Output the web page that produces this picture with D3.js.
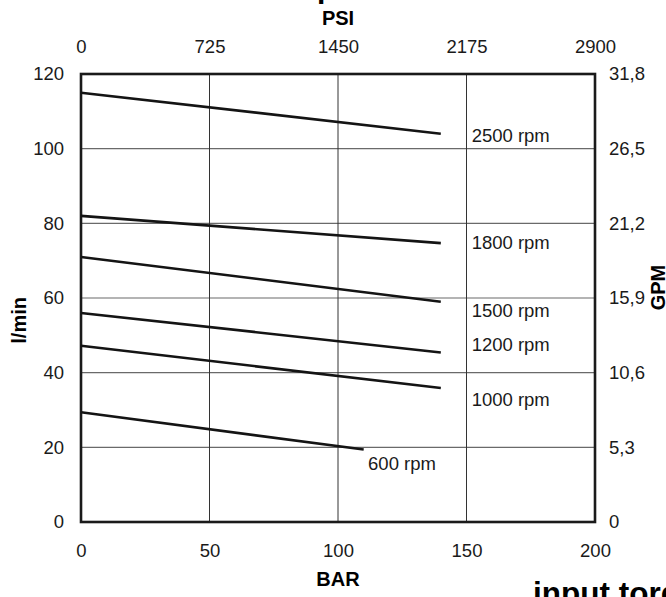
<!DOCTYPE html>
<html>
<head>
<meta charset="utf-8">
<script src="https://cdn.jsdelivr.net/npm/d3@7"></script>
<style>
  body { margin: 0; background: #fff; }
  svg { display: block; font-family: "Liberation Sans", Arial, sans-serif; }
</style>
</head>
<body>
<svg id="chart" width="666" height="597"></svg>
<script>
// pressure (bar) vs flow (l/min) per rpm
const speeds = ["2500 rpm", "1800 rpm", "1500 rpm", "1200 rpm", "1000 rpm", "600 rpm"];
const startBar = [0, 0, 0, 0, 0, 0];
const endBar = [140, 140, 140, 140, 140, 110];
const startFlow = [115, 82, 71, 56, 47.2, 29.4];
const endFlow = [104, 74.7, 59, 45.4, 35.9, 19.4];
// where each label sits, in chart units
const labelBar = [152, 152, 152, 152, 152, 111.7];
const labelFlow = [103.4, 74.8, 56.7, 47.5, 32.9, 15.6];

const barTicks = [0, 50, 100, 150, 200];
const psiTicks = ["0", "725", "1450", "2175", "2900"];
const flowTicks = [0, 20, 40, 60, 80, 100, 120];
const gpmTicks = ["0", "5,3", "10,6", "15,9", "21,2", "26,5", "31,8"];

const svg = d3.select("#chart");
const margin = { top: 74, right: 71, bottom: 75, left: 81 };
const width = 666, height = 597;

const x = d3.scaleLinear().domain([0, 200]).range([margin.left, width - margin.right]);
const y = d3.scaleLinear().domain([0, 120]).range([height - margin.bottom, margin.top]);

// grid
svg.append("g")
  .selectAll("line")
  .data(flowTicks.slice(1, -1))
  .join("line")
  .attr("x1", x(0)).attr("x2", x(200))
  .attr("y1", d => y(d)).attr("y2", d => y(d))
  .attr("stroke", "#6a6a6a").attr("stroke-width", 1.2);

svg.append("g")
  .selectAll("line")
  .data(barTicks.slice(1, -1))
  .join("line")
  .attr("x1", d => x(d)).attr("x2", d => x(d))
  .attr("y1", y(0)).attr("y2", y(120))
  .attr("stroke", "#333").attr("stroke-width", 1);

// frame
svg.append("rect")
  .attr("x", x(0)).attr("y", y(120))
  .attr("width", x(200) - x(0)).attr("height", y(0) - y(120))
  .attr("fill", "none").attr("stroke", "#1a1a1a").attr("stroke-width", 2.6);

// axes (labels only)
const tickFont = 18.5;
const gBottom = svg.append("g")
  .attr("transform", `translate(0,${y(0) + 19})`)
  .call(d3.axisBottom(x).tickValues(barTicks).tickSize(0).tickFormat(d3.format("d")));
const gTop = svg.append("g")
  .attr("transform", `translate(0,${y(120) - 18.5})`)
  .call(d3.axisTop(x).tickValues(barTicks).tickSize(0).tickFormat((d, i) => psiTicks[i]));
const gLeft = svg.append("g")
  .attr("transform", `translate(${x(0) - 14},0)`)
  .call(d3.axisLeft(y).tickValues(flowTicks).tickSize(0));
const gRight = svg.append("g")
  .attr("transform", `translate(${x(200) + 11},0)`)
  .call(d3.axisRight(y).tickValues(flowTicks).tickSize(0).tickFormat((d, i) => gpmTicks[i]));

[gBottom, gTop, gLeft, gRight].forEach(g => {
  g.select(".domain").remove();
  g.selectAll("text")
    .attr("font-size", tickFont)
    .attr("font-family", "Liberation Sans, Arial, sans-serif")
    .attr("fill", "#1a1a1a");
});

// series lines
const line = d3.line().x(d => x(d[0])).y(d => y(d[1]));
svg.append("g")
  .selectAll("path")
  .data(speeds.map((s, i) => [[startBar[i], startFlow[i]], [endBar[i], endFlow[i]]]))
  .join("path")
  .attr("d", line)
  .attr("fill", "none")
  .attr("stroke", "#141414")
  .attr("stroke-width", 2.6);

svg.append("g")
  .selectAll("text")
  .data(speeds)
  .join("text")
  .attr("x", (d, i) => x(labelBar[i]))
  .attr("y", (d, i) => y(labelFlow[i]))
  .attr("dy", "0.35em")
  .attr("font-size", 18.5)
  .attr("fill", "#1a1a1a")
  .text(d => d);

// axis titles
svg.append("text")
  .attr("x", x(100)).attr("y", 586)
  .attr("text-anchor", "middle")
  .attr("font-size", 20).attr("font-weight", "bold")
  .text("BAR");

svg.append("text")
  .attr("x", x(100)).attr("y", 25)
  .attr("text-anchor", "middle")
  .attr("font-size", 20).attr("font-weight", "bold")
  .text("PSI");

svg.append("text")
  .attr("transform", `translate(26,${y(54)}) rotate(-90)`)
  .attr("text-anchor", "middle")
  .attr("font-size", 20).attr("font-weight", "bold")
  .text("l/min");

svg.append("text")
  .attr("transform", `translate(665,${y(62.8)}) rotate(-90)`)
  .attr("text-anchor", "middle")
  .attr("font-size", 20).attr("font-weight", "bold")
  .text("GPM");

// captions cut by the page edges, as in the source image
svg.append("text")
  .attr("x", 317).attr("y", -2)
  .attr("font-size", 30).attr("font-weight", "bold")
  .text("p");

svg.append("text")
  .attr("x", 533).attr("y", 604)
  .attr("font-size", 31.5).attr("font-weight", "bold")
  .text("input torque");
</script>
</body>
</html>
